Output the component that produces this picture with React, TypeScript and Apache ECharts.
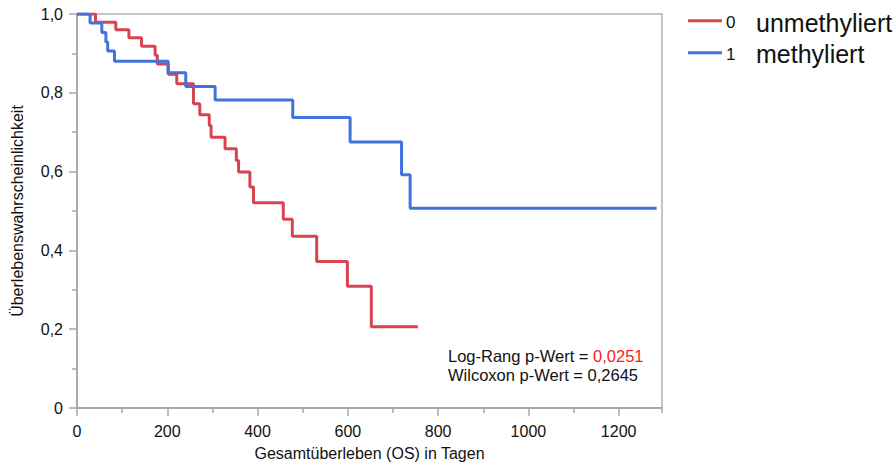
import React, { useEffect, useRef } from "react";
import * as echarts from "echarts";

// Kaplan–Meier step data (time in days, survival probability)
const unmethTimes = [0, 41, 86, 115, 143, 173, 178, 202, 221, 258, 272, 293, 297, 328, 353, 358, 383, 391, 457, 477, 531, 599, 652, 755];
const unmethSurv = [1.0, 0.979, 0.96, 0.94, 0.918, 0.895, 0.873, 0.847, 0.823, 0.772, 0.744, 0.717, 0.687, 0.658, 0.628, 0.599, 0.561, 0.521, 0.479, 0.436, 0.372, 0.309, 0.206, 0.206];

const methTimes = [0, 29, 55, 64, 68, 83, 202, 241, 306, 478, 605, 719, 738, 1284];
const methSurv = [1.0, 0.977, 0.953, 0.929, 0.906, 0.88, 0.851, 0.816, 0.782, 0.737, 0.675, 0.592, 0.507, 0.507];

const groupCodes = ["0", "1"];
const groupNames = ["unmethyliert", "methyliert"];

const xMajorTicks = [0, 200, 400, 600, 800, 1000, 1200];
const xMinorTicks = [100, 300, 500, 700, 900, 1100, 1296];
const xMax = 1296;

const logRankLabel = "Log-Rang p-Wert = ";
const logRankValue = "0,0251";
const wilcoxonLabel = "Wilcoxon p-Wert = 0,2645";

const xTitle = "Gesamtüberleben (OS) in Tagen";
const yTitle = "Überlebenswahrscheinlichkeit";

const RED = "#d9434f";
const BLUE = "#4273dc";
const FONT = "'Liberation Sans', Arial, Helvetica, sans-serif";
const TXT = "#111111";
const AXIS = "#a8a8a8";

function pairs(t: number[], s: number[]) {
  return t.map((v, i) => [v, s[i]]);
}

export default function App() {
  const ref = useRef<HTMLDivElement>(null);

  useEffect(() => {
    document.body.style.margin = "0";
    if (!ref.current) return;
    const chart = echarts.init(ref.current, null, { renderer: "svg" });

    const legendGraphics: any[] = [];
    const legendColors = [RED, BLUE];
    groupCodes.forEach((code, i) => {
      const ly = 20.7 + i * 32;
      legendGraphics.push({
        type: "line",
        shape: { x1: 688, y1: ly, x2: 722, y2: ly },
        style: { stroke: legendColors[i], lineWidth: 3 },
      });
      legendGraphics.push({
        type: "text",
        x: 726,
        y: ly + 1.5,
        style: {
          text: code,
          font: `17px ${FONT}`,
          fill: TXT,
          verticalAlign: "middle",
          align: "left",
        },
      });
      legendGraphics.push({
        type: "text",
        x: 756,
        y: 23 + i * 30.5,
        style: {
          text: groupNames[i],
          font: `25px ${FONT}`,
          fill: TXT,
          verticalAlign: "middle",
          align: "left",
        },
      });
    });

    const option: any = {
      animation: false,
      backgroundColor: "#ffffff",
      grid: {
        left: 77,
        top: 14,
        right: 234,
        bottom: 58,
        show: true,
        borderColor: "#b4b4b4",
        borderWidth: 1.5,
        outerBoundsMode: "none",
        containLabel: false,
      },
      xAxis: [
        {
          type: "value",
          min: 0,
          max: xMax,
          position: "bottom",
          name: xTitle,
          nameLocation: "middle",
          nameGap: 37,
          nameTextStyle: { fontFamily: FONT, fontSize: 16, color: TXT },
          axisLine: { show: true, lineStyle: { color: AXIS, width: 2 } },
          axisTick: { show: true, length: 8, lineStyle: { color: AXIS, width: 1.5 }, customValues: xMajorTicks },
          axisLabel: {
            fontFamily: FONT,
            fontSize: 16,
            color: TXT,
            margin: 15,
            customValues: xMajorTicks,
            formatter: (v: number) => String(Math.round(v)),
          },
          splitLine: { show: false },
        },
        {
          type: "value",
          min: 0,
          max: xMax,
          position: "bottom",
          axisLine: { show: false },
          axisTick: { show: true, length: 5, lineStyle: { color: AXIS, width: 1.5 }, customValues: xMinorTicks },
          axisLabel: { show: false },
          splitLine: { show: false },
        },
      ],
      yAxis: {
        type: "value",
        min: 0,
        max: 1,
        interval: 0.2,
        name: yTitle,
        nameLocation: "middle",
        nameGap: 52,
        nameTextStyle: { fontFamily: FONT, fontSize: 16, color: TXT },
        axisLine: { show: true, lineStyle: { color: AXIS, width: 2 } },
        axisTick: { show: true, length: 8, lineStyle: { color: AXIS, width: 1.5 } },
        minorTick: { show: true, splitNumber: 2, length: 5, lineStyle: { color: AXIS, width: 1.5 } },
        axisLabel: {
          fontFamily: FONT,
          fontSize: 16,
          color: TXT,
          margin: 14,
          formatter: (v: number) => (v === 0 ? "0" : v.toFixed(1).replace(".", ",")),
        },
        splitLine: { show: false },
      },
      series: [
        {
          name: groupNames[0],
          type: "line",
          step: "end",
          xAxisIndex: 0,
          data: pairs(unmethTimes, unmethSurv),
          symbol: "none",
          lineStyle: { color: RED, width: 3 },
          z: 2,
        },
        {
          name: groupNames[1],
          type: "line",
          step: "end",
          xAxisIndex: 0,
          data: pairs(methTimes, methSurv),
          symbol: "none",
          lineStyle: { color: BLUE, width: 3 },
          z: 3,
        },
      ],
      graphic: [
        ...legendGraphics,
        {
          type: "text",
          x: 448,
          y: 356,
          style: {
            text: `{a|${logRankLabel}}{r|${logRankValue}}`,
            verticalAlign: "middle",
            align: "left",
            rich: {
              a: { fontFamily: FONT, fontSize: 16.5, fill: TXT, color: TXT },
              r: { fontFamily: FONT, fontSize: 16.5, fill: "#ff1a1a", color: "#ff1a1a" },
            },
          },
        },
        {
          type: "text",
          x: 448,
          y: 374.5,
          style: {
            text: wilcoxonLabel,
            font: `16.5px ${FONT}`,
            fill: TXT,
            verticalAlign: "middle",
            align: "left",
          },
        },
      ],
    };

    chart.setOption(option);
    return () => chart.dispose();
  }, []);

  return <div ref={ref} style={{ width: 896, height: 466 }} />;
}
